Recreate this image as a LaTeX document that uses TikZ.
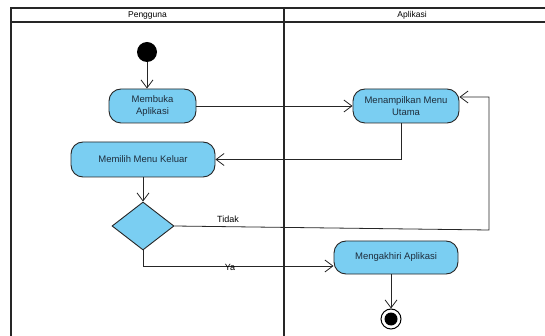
\documentclass[tikz,border=0pt]{standalone}
\usepackage{fontspec}
\setmainfont{Liberation Sans}
\usetikzlibrary{arrows.meta,shapes.geometric}
\definecolor{actfill}{RGB}{122,206,242}
\definecolor{acttext}{RGB}{30,45,60}
\tikzset{
  lane/.style={line width=2pt, draw=black!85},
  activity/.style={rectangle, rounded corners=12pt, draw=black!85, fill=actfill, line width=0.9pt,
    text=acttext, align=center, inner sep=0pt, font=\fontsize{9.5}{12}\selectfont},
  flow/.style={draw=black!85, line width=0.8pt, -{Straight Barb[length=8pt,width=12pt]}},
  guard/.style={font=\fontsize{9}{10}\selectfont, inner sep=1pt},
}

\begin{document}
\begin{tikzpicture}[x=1pt, y=-1pt]
			%%%%% START %%%%%
			\useasboundingbox (0,0) rectangle (545,336);
			
			% swimlanes
			\draw[lane] (11,336) -- (11,8) -- (545,8);
			\draw[lane] (11,22) -- (545,22);
			\draw[lane] (284,8) -- (284,336);
			\node[font=\fontsize{8.5}{9}\selectfont] (hUser) at (147.5,15) {Pengguna};
			\node[font=\fontsize{8.5}{9}\selectfont] (hApp) at (412,15) {Aplikasi};
			
			% activities
			\node[circle, fill=black, minimum size=20pt, inner sep=0pt] (start) at (147,52) {};
			\node[activity, minimum width=87pt, minimum height=34pt] (open) at (152.5,106) {Membuka\\Aplikasi};
			\node[activity, minimum width=106pt, minimum height=34pt] (menu) at (406,106) {Menampilkan Menu\\Utama};
			\node[activity, minimum width=144pt, minimum height=35pt] (exit) at (143,159.5) {Memilih Menu Keluar};
			\node[diamond, draw=black!85, fill=actfill, line width=0.9pt, minimum width=62pt, minimum height=48pt, inner sep=0pt] (choice) at (143,226) {};
			\node[activity, minimum width=124pt, minimum height=33pt] (end) at (396,257.5) {Mengakhiri Aplikasi};
			\node[circle, draw=black, line width=1pt, fill=white, minimum size=20pt, inner sep=0pt] (stop) at (391,319) {};
			\fill[black] (stop.center) circle (6.5pt);
			
			\coordinate (tBend) at (489,230);
			\coordinate (tBack) at (489,97);
			
			% flows
			\draw[flow] (start) -- (start |- open.north);
			\draw[flow] (open.east) -- (menu.west);
			\draw[flow] ([xshift=-5pt]menu.south) |- (exit.east);
			\draw[flow] (exit.south) -- (choice.north);
			\draw[flow] (choice.east) -- (tBend) -- (tBack) -- (menu.east |- tBack);
			\draw[flow] (choice.south) |- ([yshift=-8.5pt]end.west);
			\draw[flow] (end.south -| stop) -- (stop.north);
			
			\node[guard] (tidak) at (228,219) {Tidak};
			\node[guard] (ya) at (230,267) {Ya};
			%%%%% END %%%%%
\end{tikzpicture}
\end{document}
